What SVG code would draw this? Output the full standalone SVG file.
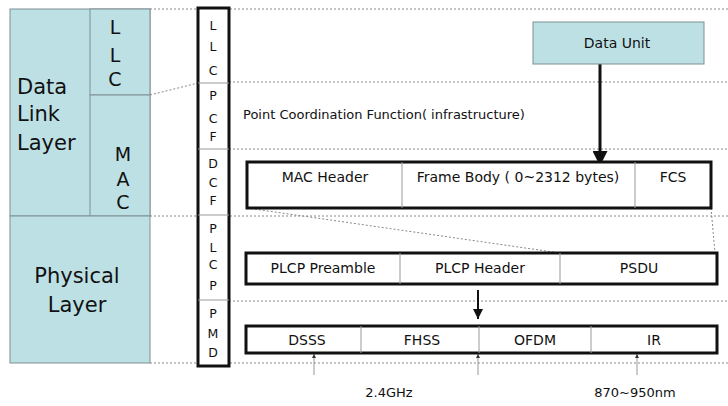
<svg xmlns="http://www.w3.org/2000/svg" width="728" height="406" viewBox="0 0 728 406">
<style>
text{font-family:"DejaVu Sans","Open Sans",sans-serif;fill:#111}
.dash{stroke:#888;stroke-width:1;stroke-dasharray:2,2;fill:none}
.teal{fill:#bde0e5;stroke:#7f8f92;stroke-width:1}
.box{fill:#fff;stroke:#111;stroke-width:3}
.div{stroke:#999;stroke-width:1}
.big{font-size:21px}
.mid{font-size:19px;text-anchor:middle}
.strip{font-size:12.5px;text-anchor:middle}
.lbl{font-size:14px;text-anchor:middle}
.thin{stroke:#999;stroke-width:1}
</style>
<defs>
<marker id="ah" viewBox="0 0 10 10" refX="10" refY="5" markerWidth="5" markerHeight="5" markerUnits="strokeWidth" orient="auto"><path d="M0,0L10,5L0,10z" fill="#111"/></marker>
<marker id="ahs" viewBox="0 0 10 10" refX="10" refY="5" markerWidth="4" markerHeight="4" orient="auto"><path d="M0,0L10,5L0,10z" fill="#333"/></marker>
</defs>
<rect width="728" height="406" fill="#fff"/>
<g id="connectors">
<line class="dash" x1="150" y1="9" x2="728" y2="9"/>
<line class="dash" x1="150" y1="95" x2="198" y2="83"/>
<line class="dash" x1="229" y1="82" x2="728" y2="82"/>
<line class="dash" x1="229" y1="149" x2="728" y2="149"/>
<line class="dash" x1="150" y1="216" x2="728" y2="216"/>
<line class="dash" x1="229" y1="301" x2="728" y2="301"/>
<line class="dash" x1="150" y1="363" x2="728" y2="363"/>
<line class="dash" x1="247" y1="208" x2="560" y2="253"/>
<line class="dash" x1="711" y1="208" x2="715" y2="253"/>
<line x1="600" y1="58" x2="600" y2="166" stroke="#111" stroke-width="3" marker-end="url(#ah)"/>
<line x1="478" y1="290" x2="478" y2="319" stroke="#111" stroke-width="2" marker-end="url(#ah)"/>
<line class="thin" x1="314" y1="375" x2="314" y2="354" marker-end="url(#ahs)"/>
<line class="thin" x1="478" y1="375" x2="478" y2="354" marker-end="url(#ahs)"/>
<line class="thin" x1="637" y1="375" x2="637" y2="354" marker-end="url(#ahs)"/>
</g>
<g id="data-link-layer">
<rect class="teal" x="10" y="9" width="140" height="207"/>
<text class="big" x="17" y="94">Data</text>
<text class="big" x="17" y="121">Link</text>
<text class="big" x="17" y="150">Layer</text>
</g>
<g id="llc">
<rect class="teal" x="90" y="9" width="60" height="86"/>
<text class="mid" x="115" y="34">L</text>
<text class="mid" x="115" y="62">L</text>
<text class="mid" x="115" y="86">C</text>
</g>
<g id="mac">
<rect class="teal" x="90" y="95" width="60" height="121"/>
<text class="mid" x="123" y="161">M</text>
<text class="mid" x="123" y="186">A</text>
<text class="mid" x="123" y="209">C</text>
</g>
<g id="physical-layer">
<rect class="teal" x="10" y="216" width="140" height="147"/>
<text class="big" x="77" y="283" text-anchor="middle">Physical</text>
<text class="big" x="77" y="312" text-anchor="middle">Layer</text>
</g>
<g id="strip">
<rect x="198" y="8" width="31" height="358" fill="#fff" stroke="#111" stroke-width="3"/>
<line class="div" x1="198" y1="83" x2="229" y2="83"/>
<line class="div" x1="198" y1="149" x2="229" y2="149"/>
<line class="div" x1="198" y1="215" x2="229" y2="215"/>
<line class="div" x1="198" y1="300" x2="229" y2="300"/>
<text class="strip" x="213" y="30">L</text>
<text class="strip" x="213" y="51">L</text>
<text class="strip" x="213" y="75">C</text>
<text class="strip" x="213" y="100">P</text>
<text class="strip" x="213" y="123">C</text>
<text class="strip" x="213" y="141">F</text>
<text class="strip" x="213" y="168">D</text>
<text class="strip" x="213" y="187">C</text>
<text class="strip" x="213" y="205">F</text>
<text class="strip" x="213" y="233">P</text>
<text class="strip" x="213" y="252">L</text>
<text class="strip" x="213" y="269">C</text>
<text class="strip" x="213" y="290">P</text>
<text class="strip" x="213" y="318">P</text>
<text class="strip" x="213" y="338">M</text>
<text class="strip" x="213" y="357">D</text>
</g>
<g id="data-unit">
<rect class="teal" x="533" y="22" width="171" height="42"/>
<text class="lbl" x="617" y="48">Data Unit</text>
</g>
<g id="pcf-label">
<text x="243" y="119" font-size="13px">Point Coordination Function( infrastructure)</text>
</g>
<g id="mac-frame">
<rect class="box" x="247" y="162" width="464" height="46"/>
<line class="div" x1="402" y1="162" x2="402" y2="208"/>
<line class="div" x1="635" y1="162" x2="635" y2="208"/>
<text class="lbl" x="325" y="182">MAC Header</text>
<text class="lbl" x="518" y="182">Frame Body ( 0~2312 bytes)</text>
<text class="lbl" x="673" y="182">FCS</text>
</g>
<g id="plcp-frame">
<rect class="box" x="246" y="253" width="471" height="31"/>
<line class="div" x1="400" y1="253" x2="400" y2="284"/>
<line class="div" x1="560" y1="253" x2="560" y2="284"/>
<text class="lbl" x="323" y="273">PLCP Preamble</text>
<text class="lbl" x="480" y="273">PLCP Header</text>
<text class="lbl" x="639" y="273">PSDU</text>
</g>
<g id="pmd-frame">
<rect class="box" x="246" y="326" width="471" height="27"/>
<line class="div" x1="361" y1="326" x2="361" y2="353"/>
<line class="div" x1="479" y1="326" x2="479" y2="353"/>
<line class="div" x1="591" y1="326" x2="591" y2="353"/>
<text class="lbl" x="307" y="345">DSSS</text>
<text class="lbl" x="422" y="345">FHSS</text>
<text class="lbl" x="535" y="345">OFDM</text>
<text class="lbl" x="654" y="345">IR</text>
</g>
<g id="freq-labels">
<text x="389" y="397" font-size="13px" text-anchor="middle">2.4GHz</text>
<text x="635" y="397" font-size="13px" text-anchor="middle">870~950nm</text>
</g>
</svg>
